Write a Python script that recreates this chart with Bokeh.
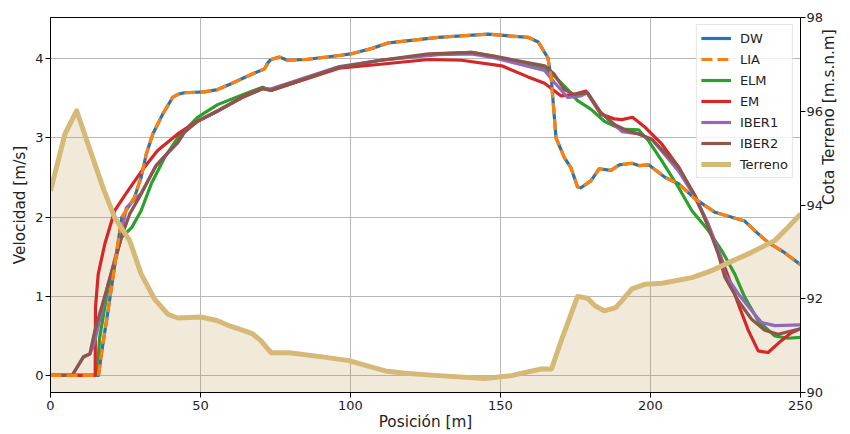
import math
from bokeh.plotting import figure
from bokeh.models import Range1d, LinearAxis, Legend, LegendItem, FixedTicker
from bokeh.embed import file_html
from bokeh.resources import INLINE

# ---------------- data ----------------
dw_x = [0, 16.0, 17.1, 19.2, 22.1, 23.8, 25.5, 28.0, 30.2, 31.9, 34.1, 37.4, 40.7, 42.5, 44.6,
        51.2, 55.7, 60, 64.5, 68, 71.3, 72.5, 73.5, 76.3, 79.0, 85.1, 96.2, 100, 107.2, 112.7,
        129.3, 145.9, 152, 159.2, 162.6, 165.8, 166.9, 168.5, 171.3, 173.5, 175.7, 176.8, 180.2,
        182.9, 186.8, 189.6, 193.8, 196.1, 199.4, 204.9, 209.4, 214.9, 221.5, 226.0, 231.4, 235,
        239.2, 244.7, 250]
dw_v = [0, 0, 0.31, 0.82, 1.57, 2.0, 2.1, 2.25, 2.50, 2.79, 3.05, 3.30, 3.51, 3.55, 3.57,
        3.58, 3.61, 3.68, 3.76, 3.82, 3.87, 3.95, 3.99, 4.02, 3.98, 3.99, 4.04, 4.06, 4.13, 4.20,
        4.27, 4.31, 4.29, 4.27, 4.21, 4.01, 3.76, 3.00, 2.75, 2.62, 2.38, 2.37, 2.46,
        2.61, 2.59, 2.66, 2.68, 2.65, 2.66, 2.50, 2.42, 2.23, 2.06, 2.01, 1.95, 1.82,
        1.68, 1.55, 1.40]

lia_x = dw_x
lia_v = dw_v

elm_x = [0, 15.5, 16.4, 19.2, 23.6, 27.1, 30.2, 33.6, 38.0, 42.4, 49.0, 55.7, 64.5, 70.7, 73.5,
         80, 96.2, 110, 129.3, 140.4, 148.1, 164.7, 168, 172.4, 175.7, 180.2, 184.6, 190.1,
         196.1, 199.4, 203.8, 209.4, 213.8, 219.3, 223.7, 228.1, 231.4, 235.9, 241.4, 245.8, 250]
elm_v = [0, 0, 0.48, 1.11, 1.74, 1.87, 2.08, 2.42, 2.75, 3.00, 3.26, 3.42, 3.55, 3.64, 3.60,
         3.68, 3.89, 3.98, 4.06, 4.08, 4.03, 3.87, 3.78, 3.61, 3.47, 3.36, 3.21, 3.11,
         3.10, 2.96, 2.71, 2.37, 2.08, 1.83, 1.58, 1.28, 0.99, 0.69, 0.50, 0.47, 0.48]

em_x = [0, 14.9, 15.0, 15.9, 18.1, 21.4, 24.7, 27.4, 31.3, 35.7, 42.4, 48.0, 55.7, 64.5, 70.7,
        73.5, 80, 96.2, 110, 126, 137, 150.4, 159.2, 164.7, 170.2, 174.6, 178.5, 183.4, 187.9,
        190.5, 194.0, 198.3, 203.8, 209.4, 213.8, 218.2, 222.6, 226.0, 229.3, 232.6, 235.9,
        239.2, 243.6, 246.9, 250]
em_v = [0, 0, 0.86, 1.28, 1.66, 2.08, 2.27, 2.42, 2.63, 2.84, 3.05, 3.19, 3.34, 3.53, 3.63,
        3.60, 3.68, 3.88, 3.93, 3.99, 3.98, 3.91, 3.77, 3.69, 3.53, 3.55, 3.59, 3.30, 3.24,
        3.23, 3.26, 3.13, 2.92, 2.63, 2.33, 1.99, 1.58, 1.24, 0.90, 0.57, 0.31,
        0.29, 0.44, 0.54, 0.59]

iber1_x = [0, 7.2, 11.0, 13.1, 14.5, 19.2, 23.6, 25.3, 30.2, 35.2, 39.1, 42.4, 44.6, 49.0, 55.7,
           64.5, 70.7, 73.5, 80, 96.2, 110, 129.3, 140.4, 148.1, 164.7, 168, 172.4, 176.8, 179.0,
           183.4, 187.9, 190.5, 196.1, 200.5, 209.4, 214.9, 219.3, 222.6, 224.8, 229.3, 233.7,
           237.0, 241.4, 250]
iber1_v = [0, 0, 0.23, 0.27, 0.40, 1.15, 1.78, 2.12, 2.30, 2.65, 2.81, 2.94, 3.07, 3.21, 3.34,
           3.52, 3.62, 3.62, 3.70, 3.90, 3.98, 4.05, 4.06, 4.01, 3.85, 3.70, 3.51, 3.53, 3.57,
           3.32, 3.17, 3.08, 3.05, 2.98, 2.58, 2.25, 1.91, 1.58, 1.28, 1.03, 0.82,
           0.67, 0.63, 0.64]

iber2_x = [0, 7.2, 11.0, 13.1, 14.8, 19.2, 23.6, 26.4, 30.2, 35.2, 39.1, 42.4, 44.6, 49.0, 55.7,
           64.5, 70.7, 73.5, 80, 96.2, 110, 126, 140.4, 148.1, 164.7, 168, 171.3, 174.6, 179.0,
           183.4, 187.9, 192.3, 196.1, 200.5, 209.4, 214.9, 219.3, 222.6, 224.8, 229.3, 233.7,
           238.1, 242.5, 250]
iber2_v = [0, 0, 0.24, 0.27, 0.57, 1.15, 1.74, 2.04, 2.29, 2.65, 2.81, 2.94, 3.07, 3.21, 3.34,
           3.52, 3.62, 3.60, 3.69, 3.89, 3.98, 4.06, 4.08, 4.03, 3.91, 3.80, 3.61, 3.55, 3.57,
           3.32, 3.17, 3.09, 3.05, 2.98, 2.63, 2.27, 1.87, 1.53, 1.24, 0.94, 0.71,
           0.57, 0.52, 0.59]

terr_x = [0, 4.8, 8.7, 12.5, 17.5, 21.4, 26.4, 30.2, 34.7, 39.1, 42.4, 50.2, 55.7, 59.7, 64.5,
          67.4, 70.2, 71.5, 73.5, 79.6, 90.6, 99.5, 105, 111.6, 118.2, 129.3, 144.8, 153.6,
          163.6, 167, 170.2, 175.7, 179.0, 181.5, 184.6, 188.4, 190.5, 193.8, 198.3, 203.8,
          213.8, 220.4, 226.0, 233.7, 241.4, 245.8, 250]
terr_z = [94.30, 95.51, 96.01, 95.30, 94.37, 93.73, 93.24, 92.53, 91.99, 91.67, 91.59, 91.61,
          91.53, 91.42, 91.32, 91.25, 91.10, 91.0, 90.85, 90.85, 90.76, 90.68, 90.58, 90.46,
          90.41, 90.36, 90.30, 90.36, 90.50, 90.50, 91.10, 92.05, 92.01, 91.85, 91.74, 91.81,
          91.96, 92.21, 92.31, 92.33, 92.45, 92.60, 92.77, 92.99, 93.24, 93.52, 93.81]

x_ticks = [0, 50, 100, 150, 200, 250]
v_ticks = [0, 1, 2, 3, 4]
z_ticks = [90, 92, 94, 96, 98]

FONT = "DejaVu Sans"
TICK_FS = "13px"
LABEL_FS = "15.3px"

# ---------------- figure ----------------
p = figure(width=850, height=434, output_backend="svg", toolbar_location=None,
           x_range=Range1d(0, 250), y_range=Range1d(-0.215, 4.52),
           min_border_left=50, min_border_top=17, min_border_right=45, min_border_bottom=42,
           background_fill_color="white", border_fill_color="white")
p.extra_y_ranges = {"terr": Range1d(90, 98)}
p.outline_line_color = "black"
p.outline_line_width = 1

for g in (p.xgrid, p.ygrid):
    g.grid_line_color = "#b8b8b8"
    g.grid_line_width = 1

p.xaxis.ticker = FixedTicker(ticks=x_ticks)
p.yaxis.ticker = FixedTicker(ticks=v_ticks)
p.xgrid.ticker = FixedTicker(ticks=x_ticks)
p.ygrid.ticker = FixedTicker(ticks=v_ticks)
p.xaxis.axis_label = "Posición [m]"
p.yaxis.axis_label = "Velocidad [m/s]"

right = LinearAxis(y_range_name="terr", axis_label="Cota Terreno [m.s.n.m]",
                   ticker=FixedTicker(ticks=z_ticks))
p.add_layout(right, "right")

for ax in p.axis:
    ax.axis_line_color = "black"
    ax.major_tick_line_color = "black"
    ax.major_tick_out = 5
    ax.major_tick_in = 0
    ax.minor_tick_line_color = None
    ax.major_label_text_font = FONT
    ax.major_label_text_font_size = TICK_FS
    ax.major_label_text_color = "#222222"
    ax.axis_label_text_font = FONT
    ax.axis_label_text_font_size = LABEL_FS
    ax.axis_label_text_font_style = "normal"
    ax.axis_label_text_color = "#222222"
    ax.major_label_standoff = 2
    ax.axis_label_standoff = 3

p.xaxis.major_label_standoff = 3
p.xaxis.axis_label_standoff = 0
right.major_label_standoff = 1
right.axis_label_standoff = 3
right.axis_label_orientation = math.pi / 2   # reads bottom-to-top, as in the reference

# ---------------- glyphs ----------------
p.varea(x=terr_x, y1=90, y2=terr_z, y_range_name="terr",
        fill_color="#B9964A", fill_alpha=0.2)

r_dw = p.line(dw_x, dw_v, line_color="#1f77b4", line_width=3.2, line_join="round")
r_elm = p.line(elm_x, elm_v, line_color="#2ca02c", line_width=3.2, line_join="round")
r_em = p.line(em_x, em_v, line_color="#d62728", line_width=3.2, line_join="round")
r_ib1 = p.line(iber1_x, iber1_v, line_color="#9467bd", line_width=3.2, line_join="round")
r_ib2 = p.line(iber2_x, iber2_v, line_color="#8c564b", line_width=3.2, line_join="round")
r_lia = p.line(lia_x, lia_v, line_color="#ff7f0e", line_width=3.2, line_dash="11 5")
r_ter = p.line(terr_x, terr_z, y_range_name="terr", line_color="#D6B877",
               line_width=5, line_join="round")

legend = Legend(items=[
    LegendItem(label="DW", renderers=[r_dw]),
    LegendItem(label="LIA", renderers=[r_lia]),
    LegendItem(label="ELM", renderers=[r_elm]),
    LegendItem(label="EM", renderers=[r_em]),
    LegendItem(label="IBER1", renderers=[r_ib1]),
    LegendItem(label="IBER2", renderers=[r_ib2]),
    LegendItem(label="Terreno", renderers=[r_ter]),
], location="top_right")
legend.margin = 7
legend.padding = 4
legend.spacing = 3
legend.glyph_height = 18
legend.label_height = 18
legend.glyph_width = 30
legend.label_standoff = 9
legend.border_line_color = "#cccccc"
legend.border_line_width = 1
legend.background_fill_alpha = 0.8
legend.label_text_font = FONT
legend.label_text_font_size = "13px"
legend.label_text_color = "#222222"
p.add_layout(legend)

open("out.html", "w").write(file_html(p, INLINE))
